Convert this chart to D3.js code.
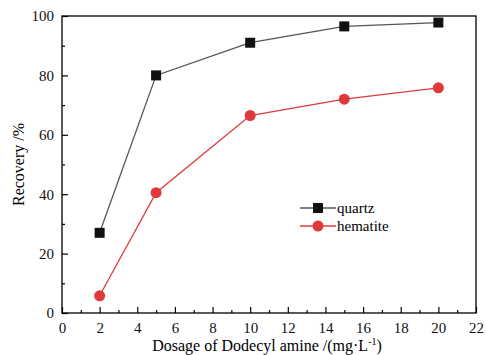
<!DOCTYPE html>
<html>
<head>
<meta charset="utf-8">
<script src="https://cdn.jsdelivr.net/npm/d3@7"></script>
<style>
  body { margin: 0; background: #fff; }
  svg { display: block; font-family: "Liberation Serif", "Times New Roman", serif; }
  svg text { font-family: "Liberation Serif", "Times New Roman", serif; }
</style>
</head>
<body>
<div id="chart"></div>
<script>
const dosage = [2, 5, 10, 15, 20];
const quartz = [27, 80, 91, 96.5, 97.8];
const hematite = [5.8, 40.5, 66.5, 72, 75.8];
const xTicks = [0, 2, 4, 6, 8, 10, 12, 14, 16, 18, 20, 22];
const yTicks = [0, 20, 40, 60, 80, 100];

const width = 486, height = 355;
const margin = {left: 62, right: 10, top: 16, bottom: 42};

const svg = d3.select("#chart").append("svg")
  .attr("width", width)
  .attr("height", height);

const x = d3.scaleLinear().domain([0, 22]).range([margin.left, width - margin.right]);
const y = d3.scaleLinear().domain([0, 100]).range([height - margin.bottom, margin.top]);

// frame
svg.append("rect")
  .attr("x", x(0)).attr("y", y(100))
  .attr("width", x(22) - x(0)).attr("height", y(0) - y(100))
  .attr("fill", "none").attr("stroke", "#000").attr("stroke-width", 1.3);

// x axis, ticks inward
const xAxis = svg.append("g").attr("transform", `translate(0,${y(0)})`);
xAxis.call(d3.axisBottom(x).tickValues(d3.range(0, 23, 1))
  .tickSize(-6).tickFormat(d => xTicks.includes(d) ? d : ""));
xAxis.attr("font-family", "Liberation Serif").attr("font-size", 15);
xAxis.selectAll(".tick line").attr("y2", d => d % 2 === 0 ? -6 : -3).attr("stroke-width", 1.2);
xAxis.selectAll(".tick text").attr("y", 9).attr("fill", "#111");
xAxis.select(".domain").remove();

// y axis
const yAxis = svg.append("g").attr("transform", `translate(${x(0)},0)`);
yAxis.call(d3.axisLeft(y).tickValues(d3.range(0, 101, 10))
  .tickSize(-6).tickFormat(d => yTicks.includes(d) ? d : ""));
yAxis.attr("font-family", "Liberation Serif").attr("font-size", 15);
yAxis.selectAll(".tick line").attr("x2", d => d % 20 === 0 ? 6 : 3).attr("stroke-width", 1.2);
yAxis.selectAll(".tick text").attr("x", -8).attr("fill", "#111");
yAxis.select(".domain").remove();

// axis titles
svg.append("text")
  .attr("x", (x(0) + x(22)) / 2 - 2).attr("y", height - 4)
  .attr("text-anchor", "middle").attr("font-size", 16)
  .html('Dosage of Dodecyl amine /(mg·L<tspan dy="-6" font-size="10">-1</tspan><tspan dy="6">)</tspan>');

svg.append("text")
  .attr("transform", `translate(24,${(y(0) + y(100)) / 2}) rotate(-90)`)
  .attr("text-anchor", "middle").attr("font-size", 16)
  .text("Recovery /%");

const line = d3.line().x((d, i) => x(dosage[i])).y(d => y(d));

// quartz
svg.append("path").datum(quartz)
  .attr("d", line).attr("fill", "none").attr("stroke", "#555").attr("stroke-width", 1.3);
svg.selectAll(".sq").data(quartz).enter().append("rect")
  .attr("x", (d, i) => x(dosage[i]) - 5).attr("y", d => y(d) - 5)
  .attr("width", 10).attr("height", 10).attr("fill", "#111");

// hematite
svg.append("path").datum(hematite)
  .attr("d", line).attr("fill", "none").attr("stroke", "#e0393b").attr("stroke-width", 1.3);
svg.selectAll(".ci").data(hematite).enter().append("circle")
  .attr("cx", (d, i) => x(dosage[i])).attr("cy", d => y(d))
  .attr("r", 5.5).attr("fill", "#e0393b");

// legend
const legend = svg.append("g").attr("transform", "translate(300,208)");
const items = [
  {name: "quartz", color: "#555", fill: "#111", shape: "square"},
  {name: "hematite", color: "#e0393b", fill: "#e0393b", shape: "circle"}
];
items.forEach((it, i) => {
  const g = legend.append("g").attr("transform", `translate(0,${i * 18})`);
  g.append("line").attr("x1", 0).attr("x2", 36).attr("stroke", it.color).attr("stroke-width", 1.3);
  if (it.shape === "square") {
    g.append("rect").attr("x", 13).attr("y", -5).attr("width", 10).attr("height", 10).attr("fill", it.fill);
  } else {
    g.append("circle").attr("cx", 18).attr("r", 5.5).attr("fill", it.fill);
  }
  g.append("text").attr("x", 37).attr("y", 5).attr("font-size", 15).text(it.name);
});
</script>
</body>
</html>
